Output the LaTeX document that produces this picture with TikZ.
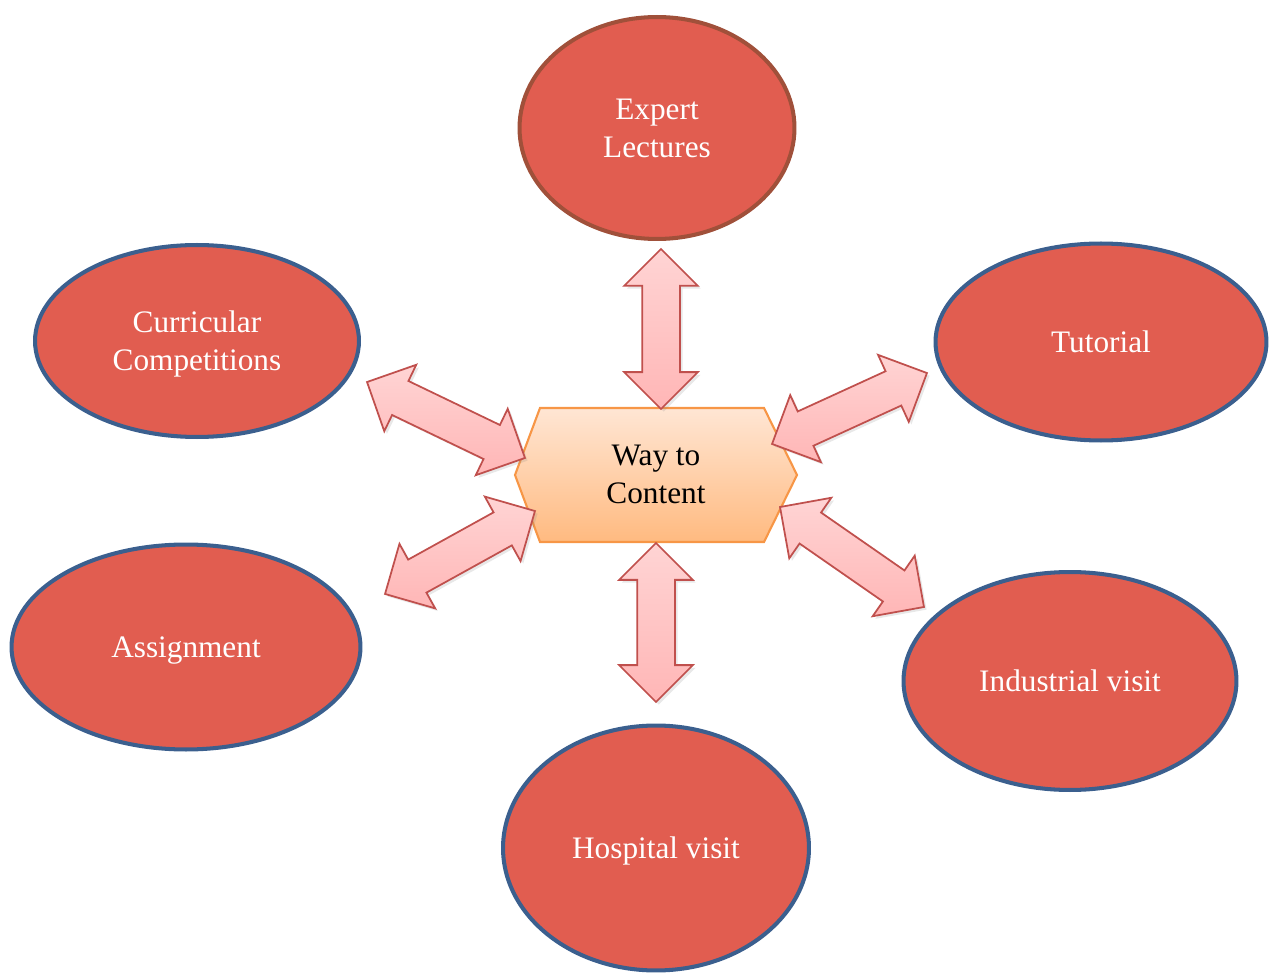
\documentclass[tikz,border=0pt]{standalone}
\usepackage{fontspec}
\setmainfont{Liberation Serif}
\usetikzlibrary{shapes.geometric,shapes.arrows,calc,shadows}

\definecolor{bubblefill}{HTML}{E15D50}
\definecolor{bubbleline}{HTML}{3B5F8E}
\definecolor{lectureline}{HTML}{A0503A}
\definecolor{hexline}{HTML}{F79646}
\definecolor{hextop}{HTML}{FFE6D4}
\definecolor{hexbottom}{HTML}{FFBA80}
\definecolor{arrowline}{HTML}{C0504D}
\definecolor{arrowlight}{HTML}{FFD4D4}
\definecolor{arrowdark}{HTML}{FFB6B6}

\tikzset{
    bubble/.style={ellipse, draw=bubbleline, fill=bubblefill, line width=2.3pt,
        inner sep=0pt, text=white, align=center, text depth=0pt,
        font=\fontsize{17.8}{21.6}\selectfont},
    dblarrow/.style={double arrow, draw=arrowline, line width=1pt,
        top color=arrowlight, bottom color=arrowdark,
        double arrow head extend=0.36cm, double arrow tip angle=90,
        inner xsep=0pt, inner ysep=0.36cm,
        drop shadow={opacity=0.18, shadow xshift=1.5pt, shadow yshift=-1.5pt}}
}

% block arrow from one point to another
\newcommand{\joinarrows}[3]{%
    \path let \p1=($(#3)-(#2)$), \n1={veclen(\x1,\y1)}, \n2={atan2(\y1,\x1)} in
        node (#1) [dblarrow, minimum height=\n1, rotate=\n2] at ($(#2)!0.5!(#3)$) {};}

\begin{document}
\begin{tikzpicture}[x=0.02cm, y=-0.02cm]
    \useasboundingbox (0,0) rectangle (1269,973);

    % outer topics
    \node (lectures) [bubble, draw=lectureline, minimum width=5.5cm, minimum height=4.44cm] at (657,128) {Expert\\Lectures};
    \node (curricular) [bubble, minimum width=6.48cm, minimum height=3.84cm] at (197,341) {Curricular\\Competitions};
    \node (tutorial) [bubble, minimum width=6.62cm, minimum height=3.94cm] at (1101,342) {Tutorial};
    \node (assignment) [bubble, minimum width=6.98cm, minimum height=4.1cm] at (186,647) {Assignment};
    \node (industrial) [bubble, minimum width=6.66cm, minimum height=4.36cm] at (1070,681) {Industrial visit};
    \node (hospital) [bubble, minimum width=6.12cm, minimum height=4.9cm] at (656,848) {Hospital visit};

    % centre hexagon
    \shade[top color=hextop, bottom color=hexbottom, draw=hexline, line width=1.2pt]
        (540,408) -- (764,408) -- (797,475) -- (764,542) -- (540,542) -- (515,475) -- cycle;
    \node (way) [align=center, font=\fontsize{17.8}{21.6}\selectfont] at (656,474) {Way to\\Content};

    % arrow ends
    \coordinate (lec-a) at (661,249);
    \coordinate (lec-b) at (661,409);
    \coordinate (hos-a) at (656,543);
    \coordinate (hos-b) at (656,702);
    \coordinate (cur-a) at (367,382);
    \coordinate (cur-b) at (525,458);
    \coordinate (ass-a) at (385,594);
    \coordinate (ass-b) at (535,511);
    \coordinate (tut-a) at (927,373);
    \coordinate (tut-b) at (772,444);
    \coordinate (ind-a) at (924,607);
    \coordinate (ind-b) at (780,507);

    \joinarrows{lec-arrow}{lec-a}{lec-b}
    \joinarrows{hos-arrow}{hos-a}{hos-b}
    \joinarrows{cur-arrow}{cur-a}{cur-b}
    \joinarrows{ass-arrow}{ass-a}{ass-b}
    \joinarrows{tut-arrow}{tut-a}{tut-b}
    \joinarrows{ind-arrow}{ind-a}{ind-b}
\end{tikzpicture}
\end{document}
